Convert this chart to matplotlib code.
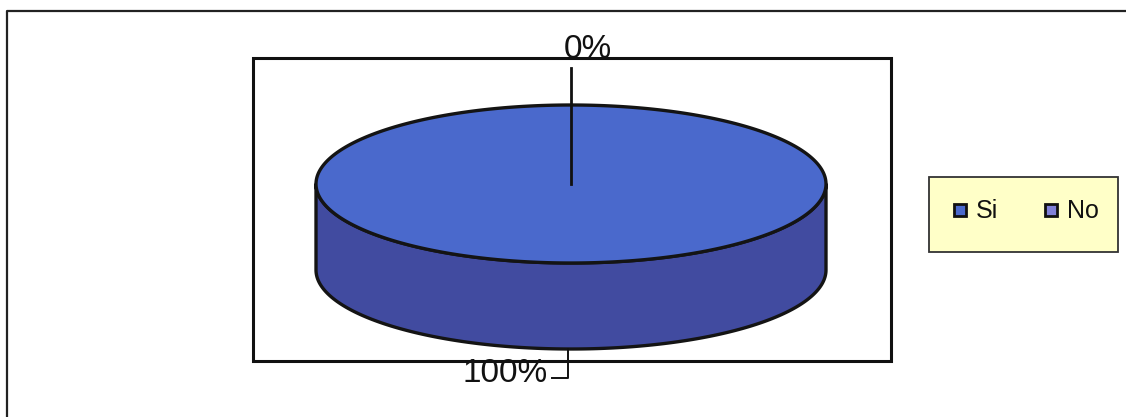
import numpy as np
import matplotlib
matplotlib.use("Agg")
import matplotlib.pyplot as plt
from matplotlib.patches import Polygon, Rectangle

plt.rcParams['font.family'] = ['Liberation Sans', 'DejaVu Sans']

# Survey answers
categories = ["Si", "No"]
values = [100, 0]
top_colors = ["#4a69cc", "#8e8ee6"]
side_colors = ["#414ba0", "#5f5fb0"]
legend_colors = ["#4a69cc", "#8080d8"]

W, H = 1126, 417
fig = plt.figure(figsize=(W / 100, H / 100), dpi=100)
ax = fig.add_axes([0, 0, 1, 1])
ax.set_xlim(0, W)
ax.set_ylim(H, 0)
ax.axis("off")

# outer frame (runs off the right and bottom edges)
ax.plot([7, 7, 1140], [430, 11, 11], color="#222222", lw=1.6)

# plot area
ax.add_patch(Rectangle((253, 58), 638, 303, fill=False, ec="#111111", lw=2.2))

# pie geometry
cx, cy, rx, ry, depth = 571, 184, 255, 79, 86
total = float(sum(values))
fracs = [v / total for v in values]


def pt(theta_deg, dy=0.0):
    t = np.radians(theta_deg)
    return cx + rx * np.cos(t), cy - ry * np.sin(t) + dy


# slices go clockwise from 12 o'clock
start = 90.0
slices = []
for f in fracs:
    end = start - 360.0 * f
    slices.append((start, end))
    start = end

# side walls (front half only, angles in [180, 360])
for (a0, a1), sc in zip(slices, side_colors):
    lo, hi = min(a0, a1), max(a0, a1)
    if hi - lo <= 0:
        continue
    segs = []
    for k in range(-2, 2):
        s0, s1 = max(lo, 180 + 360 * k), min(hi, 360 + 360 * k)
        if s1 > s0:
            segs.append((s0, s1))
    for s0, s1 in segs:
        th = np.linspace(s0, s1, 200)
        top = np.array([pt(t) for t in th])
        bot = np.array([pt(t, depth) for t in th[::-1]])
        ax.add_patch(Polygon(np.vstack([top, bot]), closed=True, fc=sc,
                             ec="#141414", lw=2.4, joinstyle="round"))

# top faces
for (a0, a1), tc in zip(slices, top_colors):
    if abs(a1 - a0) <= 0:
        continue
    th = np.linspace(a0, a1, 400)
    pts = np.array([pt(t) for t in th])
    if abs(a1 - a0) < 360:
        pts = np.vstack([[cx, cy], pts])
    ax.add_patch(Polygon(pts, closed=True, fc=tc, ec="#141414", lw=2.4,
                         joinstyle="round"))

# data labels with leader lines
for (a0, a1), v in zip(slices, values):
    pct = f"{round(100 * v / total):d}%"
    mid = (a0 + a1) / 2.0
    if abs(a1 - a0) < 1e-9:
        # empty slice: label above the pie, leader from the centre
        ax.plot([cx, cx], [cy, 68], color="#111111", lw=2.0)
        ax.text(cx + 17, 49, pct, ha="center", va="center", fontsize=24,
                color="#111111")
    else:
        bx, by = pt(mid, depth)
        ax.plot([bx - 3, bx - 3, 552], [by, 378, 378], color="#111111", lw=1.4)
        ax.text(505, 374, pct, ha="center", va="center", fontsize=24,
                color="#111111")

# legend
ax.add_patch(Rectangle((929, 177), 189, 75, fc="#ffffc8", ec="#333333", lw=1.3))
for i, (lab, col) in enumerate(zip(categories, legend_colors)):
    mx = 954 + i * 91
    ax.add_patch(Rectangle((mx, 204), 12, 12, fc=col, ec="#111111", lw=2.0))
    ax.text(mx + 22, 211, lab, ha="left", va="center", fontsize=18,
            color="#111111")

fig.savefig("out.png", dpi=100, facecolor="white")
